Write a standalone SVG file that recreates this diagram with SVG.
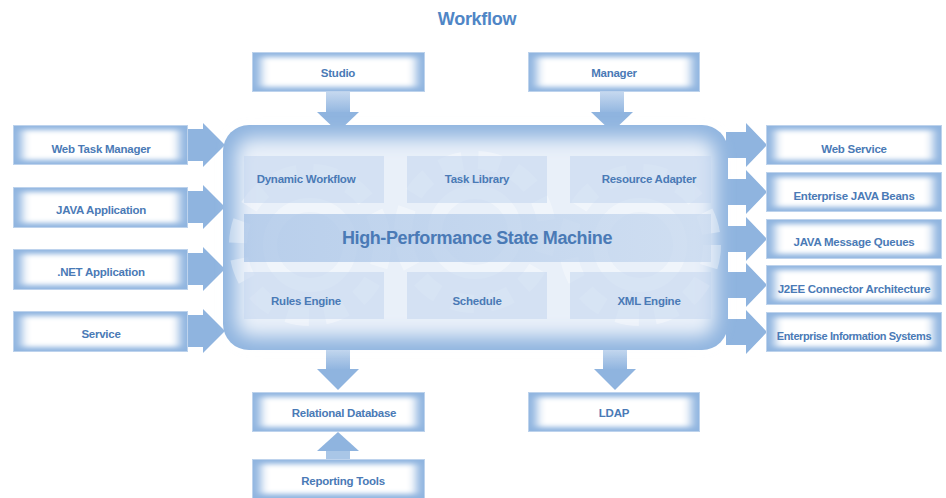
<svg xmlns="http://www.w3.org/2000/svg" width="946" height="498" viewBox="0 0 946 498">
<defs>
<style>
.t{font-family:"Liberation Sans",Arial,sans-serif;font-weight:bold;font-size:11.5px;fill:#4a7ab6;text-anchor:middle;letter-spacing:-0.25px}
.edge{fill:#8fb4df;stroke:#bcd2ec;stroke-width:1}
.core{fill:#ffffff;filter:url(#blur)}
.arr{fill:#8fb4df}
.inner{fill:#c3d6ee;opacity:0.55}
.gear{fill:none;stroke:#ffffff;opacity:0.35}
</style>
<filter id="blur" x="-20%" y="-40%" width="140%" height="180%"><feGaussianBlur stdDeviation="5 2.5"/></filter>
<filter id="blur2" x="-10%" y="-20%" width="120%" height="140%"><feGaussianBlur stdDeviation="9"/></filter>
<linearGradient id="shaftV" x1="0" y1="0" x2="0" y2="1"><stop offset="0" stop-color="#c5d8ef"/><stop offset="1" stop-color="#8fb4df"/></linearGradient>
<linearGradient id="hpsm" x1="0" y1="0" x2="1" y2="0"><stop offset="0" stop-color="#a3c0e5"/><stop offset="1" stop-color="#c5d7ee"/></linearGradient>
</defs>

<text x="477" y="25" style="font-family:'Liberation Sans',Arial,sans-serif;font-weight:bold;font-size:18px;fill:#4f86c6;text-anchor:middle;letter-spacing:-0.3px">Workflow</text>

<g id="connectors">
<!-- left inputs -->
<polygon class="arr" points="186,129 203,129 203,123 225,145 203,167 203,161 186,161"/>
<polygon class="arr" points="186,191 203,191 203,185 225,207 203,229 203,223 186,223"/>
<polygon class="arr" points="186,253 203,253 203,247 225,269 203,291 203,285 186,285"/>
<polygon class="arr" points="186,315 203,315 203,309 225,331 203,353 203,347 186,347"/>
<!-- right outputs -->
<polygon class="arr" points="726,132 746,132 746,123 767,145 746,167 746,158 726,158"/>
<polygon class="arr" points="726,179 746,179 746,170 767,192 746,214 746,205 726,205"/>
<polygon class="arr" points="726,226 746,226 746,217 767,239 746,261 746,252 726,252"/>
<polygon class="arr" points="726,272 746,272 746,263 767,285 746,307 746,298 726,298"/>
<polygon class="arr" points="726,319 746,319 746,310 767,332 746,354 746,345 726,345"/>
<!-- top -->
<rect x="326" y="92" width="24" height="22" fill="url(#shaftV)"/>
<polygon class="arr" points="317,112 359,112 338,132"/>
<rect x="600" y="92" width="24" height="22" fill="url(#shaftV)"/>
<polygon class="arr" points="591,112 633,112 612,132"/>
<!-- bottom -->
<rect x="326" y="348" width="24" height="22" fill="url(#shaftV)"/>
<polygon class="arr" points="317,369 359,369 338,390"/>
<rect x="603" y="348" width="24" height="22" fill="url(#shaftV)"/>
<polygon class="arr" points="594,369 636,369 615,390"/>
<!-- reporting up -->
<rect x="326" y="448" width="24" height="16" fill="#a9c6e7"/>
<polygon class="arr" points="317,451 359,451 338,432"/>
</g>

<g id="workflow-engine">
<rect x="223" y="125" width="505" height="225" rx="26" ry="26" fill="#8fb4df"/>
<rect x="236" y="138" width="479" height="199" rx="16" ry="16" fill="#e9f0f9" filter="url(#blur2)"/>
<g id="gears">
<circle class="gear" cx="310" cy="245" r="72" stroke-width="18" stroke-dasharray="22 16"/>
<circle class="gear" cx="310" cy="245" r="40" stroke-width="14"/>
<circle class="gear" cx="475" cy="232" r="72" stroke-width="18" stroke-dasharray="22 16"/>
<circle class="gear" cx="475" cy="232" r="40" stroke-width="14"/>
<circle class="gear" cx="640" cy="245" r="72" stroke-width="18" stroke-dasharray="22 16"/>
<circle class="gear" cx="640" cy="245" r="40" stroke-width="14"/>
</g>
</g>

<g id="dynamic-workflow"><rect class="inner" x="244" y="156" width="140" height="47"/><text class="t" x="306" y="183">Dynamic Workflow</text></g>
<g id="task-library"><rect class="inner" x="407" y="156" width="140" height="47"/><text class="t" x="477" y="183">Task Library</text></g>
<g id="resource-adapter"><rect class="inner" x="570" y="156" width="141" height="47"/><text class="t" x="649" y="183">Resource Adapter</text></g>
<g id="state-machine"><rect x="244" y="214" width="467" height="48" fill="url(#hpsm)" opacity="0.7"/><text class="t" x="477" y="244" style="font-size:18px;letter-spacing:-0.4px">High-Performance State Machine</text></g>
<g id="rules-engine"><rect class="inner" x="244" y="272" width="140" height="47"/><text class="t" x="306" y="305">Rules Engine</text></g>
<g id="schedule"><rect class="inner" x="407" y="272" width="140" height="47"/><text class="t" x="477" y="305">Schedule</text></g>
<g id="xml-engine"><rect class="inner" x="570" y="272" width="141" height="47"/><text class="t" x="649" y="305">XML Engine</text></g>

<g id="studio"><rect class="edge" x="252.5" y="52.5" width="172" height="39"/><rect class="core" x="261" y="57" width="155" height="30"/><text class="t" x="338" y="77">Studio</text></g>
<g id="manager"><rect class="edge" x="528.5" y="52.5" width="171" height="39"/><rect class="core" x="537" y="57" width="154" height="30"/><text class="t" x="614" y="77">Manager</text></g>

<g id="web-task-manager"><rect class="edge" x="13.5" y="125.5" width="174" height="39"/><rect class="core" x="22" y="130" width="157" height="30"/><text class="t" x="101" y="153">Web Task Manager</text></g>
<g id="java-application"><rect class="edge" x="13.5" y="187.5" width="174" height="40"/><rect class="core" x="22" y="192" width="157" height="31"/><text class="t" x="101" y="214">JAVA Application</text></g>
<g id="net-application"><rect class="edge" x="13.5" y="249.5" width="174" height="40"/><rect class="core" x="22" y="254" width="157" height="31"/><text class="t" x="101" y="276">.NET Application</text></g>
<g id="service"><rect class="edge" x="13.5" y="311.5" width="174" height="40"/><rect class="core" x="22" y="316" width="157" height="31"/><text class="t" x="101" y="338">Service</text></g>

<g id="web-service"><rect class="edge" x="766.5" y="125.5" width="175" height="39"/><rect class="core" x="775" y="130" width="158" height="30"/><text class="t" x="854" y="153">Web Service</text></g>
<g id="ejb"><rect class="edge" x="766.5" y="172.5" width="175" height="39"/><rect class="core" x="775" y="177" width="158" height="30"/><text class="t" x="854" y="200">Enterprise JAVA Beans</text></g>
<g id="jmq"><rect class="edge" x="766.5" y="219.5" width="175" height="39"/><rect class="core" x="775" y="224" width="158" height="30"/><text class="t" x="854" y="246">JAVA Message Queues</text></g>
<g id="j2ee"><rect class="edge" x="766.5" y="265.5" width="175" height="39"/><rect class="core" x="775" y="270" width="158" height="30"/><text class="t" x="854" y="293">J2EE Connector Architecture</text></g>
<g id="eis"><rect class="edge" x="766.5" y="312.5" width="175" height="39"/><rect class="core" x="775" y="317" width="158" height="30"/><text class="t" x="854" y="340" style="font-size:11px;letter-spacing:-0.4px">Enterprise Information Systems</text></g>

<g id="relational-database"><rect class="edge" x="252.5" y="392.5" width="172" height="39"/><rect class="core" x="261" y="397" width="155" height="30"/><text class="t" x="344" y="417">Relational Database</text></g>
<g id="ldap"><rect class="edge" x="528.5" y="392.5" width="171" height="39"/><rect class="core" x="537" y="397" width="154" height="30"/><text class="t" x="614" y="417">LDAP</text></g>
<g id="reporting-tools"><rect class="edge" x="252.5" y="459.5" width="172" height="39"/><rect class="core" x="261" y="464" width="155" height="30"/><text class="t" x="343" y="485">Reporting Tools</text></g>
</svg>
